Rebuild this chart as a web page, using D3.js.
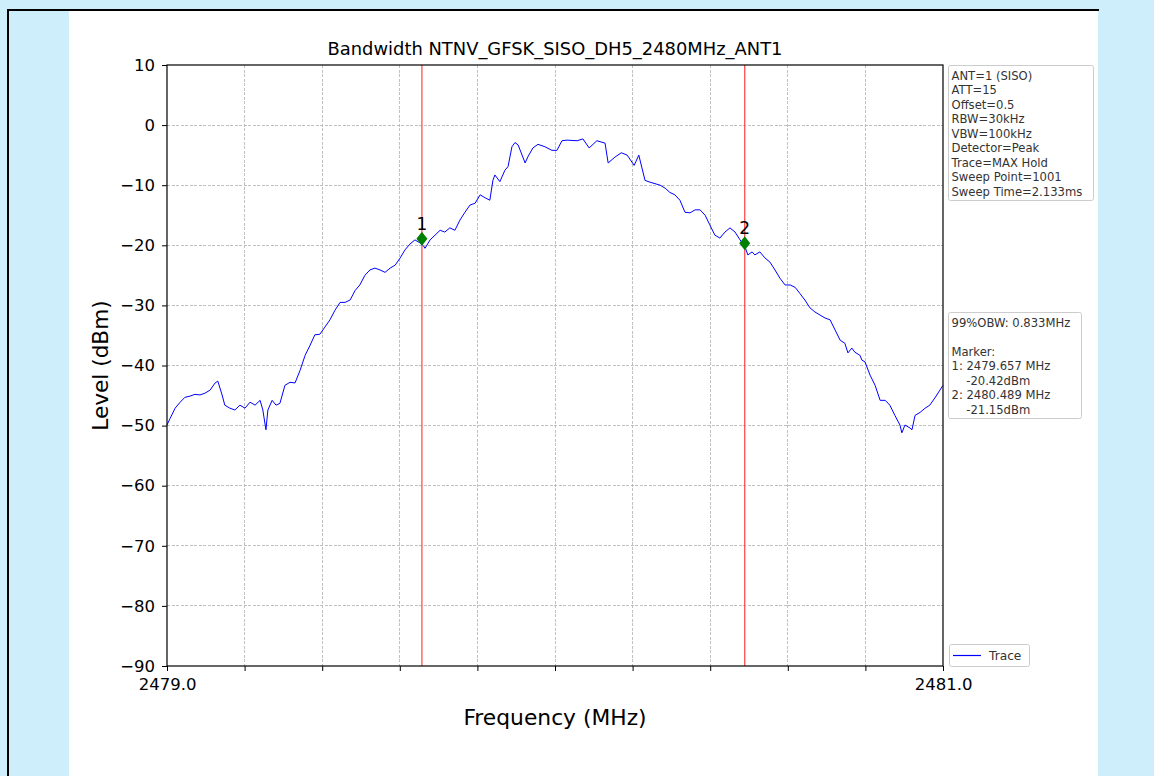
<!DOCTYPE html>
<html>
<head>
<meta charset="utf-8">
<script src="https://cdn.jsdelivr.net/npm/d3@7"></script>
<style>
  html, body { margin: 0; padding: 0; }
  body { width: 1154px; height: 776px; overflow: hidden; background: #cfeefb; font-family: "DejaVu Sans", sans-serif; }
  #frame { position: absolute; left: 7px; top: 9px; width: 1090px; height: 780px; border-left: 2px solid #000; border-top: 2px solid #000; }
  #sheet { position: absolute; left: 69px; top: 11px; width: 1029px; height: 765px; background: #fff; }
  svg { position: absolute; left: 0; top: 0; }
</style>
</head>
<body>
<div id="frame"></div>
<div id="sheet"></div>
<svg id="chart" width="1154" height="776"></svg>
<script>
// chart data
const title = 'Bandwidth NTNV_GFSK_SISO_DH5_2480MHz_ANT1'
const xDomain = [2479.0, 2481.0]
const yDomain = [-90, 10]
const yTicks = [10, 0, -10, -20, -30, -40, -50, -60, -70, -80, -90]
const xTicks = [2479.0, 2479.2, 2479.4, 2479.6, 2479.8, 2480.0, 2480.2, 2480.4, 2480.6, 2480.8, 2481.0]
const xTickLabels = ['2479.0', '', '', '', '', '', '', '', '', '', '2481.0']

const freqMHz = [
  2479.000, 2479.008, 2479.021, 2479.034, 2479.046, 2479.059, 2479.072, 2479.085, 2479.098, 2479.111,
  2479.124, 2479.131, 2479.142, 2479.149, 2479.162, 2479.175, 2479.188, 2479.201, 2479.214, 2479.227,
  2479.240, 2479.247, 2479.255, 2479.260, 2479.271, 2479.281, 2479.291, 2479.304, 2479.317, 2479.330,
  2479.343, 2479.356, 2479.369, 2479.381, 2479.394, 2479.407, 2479.420, 2479.433, 2479.446, 2479.459,
  2479.472, 2479.485, 2479.497, 2479.510, 2479.523, 2479.536, 2479.549, 2479.562, 2479.575, 2479.588,
  2479.601, 2479.613, 2479.626, 2479.639, 2479.652, 2479.660, 2479.665, 2479.678, 2479.691, 2479.704,
  2479.716, 2479.729, 2479.742, 2479.755, 2479.768, 2479.781, 2479.794, 2479.807, 2479.820, 2479.832,
  2479.840, 2479.845, 2479.858, 2479.871, 2479.879, 2479.889, 2479.897, 2479.905, 2479.923, 2479.930,
  2479.943, 2479.956, 2479.974, 2479.992, 2480.005, 2480.018, 2480.031, 2480.057, 2480.072, 2480.088,
  2480.108, 2480.129, 2480.137, 2480.155, 2480.171, 2480.186, 2480.204, 2480.216, 2480.232, 2480.245,
  2480.271, 2480.284, 2480.296, 2480.309, 2480.322, 2480.335, 2480.348, 2480.361, 2480.374, 2480.387,
  2480.399, 2480.412, 2480.425, 2480.438, 2480.451, 2480.464, 2480.477, 2480.490, 2480.497, 2480.508,
  2480.515, 2480.528, 2480.541, 2480.554, 2480.567, 2480.580, 2480.593, 2480.606, 2480.619, 2480.631,
  2480.644, 2480.657, 2480.670, 2480.683, 2480.696, 2480.709, 2480.722, 2480.735, 2480.747, 2480.755,
  2480.765, 2480.773, 2480.786, 2480.791, 2480.799, 2480.812, 2480.825, 2480.838, 2480.851, 2480.863,
  2480.876, 2480.889, 2480.894, 2480.902, 2480.915, 2480.920, 2480.928, 2480.941, 2480.954, 2480.966,
  2480.979, 2480.992, 2481.000
]
const levelDbm = [
  -49.9, -48.8, -47.1, -46.1, -45.3, -45.1, -44.8, -44.9, -44.6, -44.1,
  -42.9, -42.6, -44.9, -46.6, -47.1, -47.4, -46.6, -47.1, -46.1, -46.6,
  -45.8, -47.4, -50.7, -47.4, -45.8, -46.6, -46.3, -43.3, -42.8, -42.9,
  -40.8, -38.3, -36.6, -34.9, -34.8, -33.6, -32.4, -30.8, -29.5, -29.5,
  -29.1, -27.5, -26.6, -25.0, -24.1, -23.8, -24.1, -24.5, -23.8, -23.3,
  -22.1, -20.8, -19.8, -19.1, -19.6, -20.0, -20.5, -19.1, -18.3, -17.5,
  -17.8, -17.1, -17.5, -15.8, -14.5, -13.3, -13.0, -11.6, -12.1, -12.5,
  -9.2, -8.3, -9.4, -7.5, -6.9, -3.6, -2.9, -3.3, -6.3, -5.3,
  -3.8, -3.2, -3.6, -4.2, -4.2, -2.6, -2.5, -2.6, -2.3, -3.8,
  -2.6, -3.0, -6.3, -5.3, -4.6, -5.0, -6.7, -5.0, -9.2, -9.5,
  -10.0, -10.5, -11.2, -11.6, -12.5, -14.5, -14.6, -14.1, -14.1, -15.0,
  -16.6, -18.3, -18.8, -17.8, -17.1, -17.8, -19.1, -20.3, -21.6, -21.1,
  -21.6, -21.1, -22.1, -22.8, -24.1, -25.5, -26.6, -26.6, -27.0, -28.0,
  -29.1, -30.4, -31.1, -31.6, -32.1, -32.4, -34.1, -35.8, -36.3, -37.9,
  -37.1, -37.8, -38.3, -39.1, -39.4, -41.6, -43.3, -45.8, -45.8, -46.6,
  -48.3, -49.9, -51.2, -49.9, -50.4, -50.7, -48.3, -47.8, -47.1, -46.6,
  -45.4, -44.1, -43.3
]

const markerFreq = [2479.657, 2480.489]
const markerLevel = [-20.42, -21.15]
const markerNames = ['1', '2']

const settingsLines = ['ANT=1 (SISO)', 'ATT=15', 'Offset=0.5', 'RBW=30kHz', 'VBW=100kHz',
  'Detector=Peak', 'Trace=MAX Hold', 'Sweep Point=1001', 'Sweep Time=2.133ms']
const resultLines = ['99%OBW: 0.833MHz', '', 'Marker:', '1: 2479.657 MHz', '    -20.42dBm',
  '2: 2480.489 MHz', '    -21.15dBm']

const svg = d3.select('#chart')
const plot = {left: 167, right: 943, top: 65, bottom: 666}
const font = 'DejaVu Sans, sans-serif'

const x = d3.scaleLinear().domain(xDomain).range([plot.left, plot.right])
const y = d3.scaleLinear().domain(yDomain).range([plot.bottom, plot.top])

// grid
const grid = svg.append('g')
grid.selectAll('line.v').data(xTicks.slice(1, -1)).join('line')
  .attr('x1', d => x(d)).attr('x2', d => x(d))
  .attr('y1', plot.top).attr('y2', plot.bottom)
grid.selectAll('line.h').data(yTicks.slice(1, -1)).join('line')
  .attr('x1', plot.left).attr('x2', plot.right)
  .attr('y1', d => y(d)).attr('y2', d => y(d))
grid.selectAll('line')
  .attr('stroke', '#b0b0b0').attr('stroke-width', 0.8).attr('stroke-dasharray', '3,1.5')
  .attr('shape-rendering', 'crispEdges')

// marker lines
svg.append('g').selectAll('line').data(markerFreq).join('line')
  .attr('x1', d => x(d)).attr('x2', d => x(d))
  .attr('y1', plot.top).attr('y2', plot.bottom)
  .attr('stroke', '#ff4040').attr('stroke-width', 1.2)

// trace
const pts = freqMHz.map((f, i) => [f, levelDbm[i]])
svg.append('path').datum(pts)
  .attr('fill', 'none').attr('stroke', '#0000ff').attr('stroke-width', 1)
  .attr('stroke-linejoin', 'round')
  .attr('d', d3.line().x(d => x(d[0])).y(d => y(d[1])))

// marker diamonds (drawn just above the reported level, like the source)
const mk = svg.append('g')
markerFreq.forEach((f, i) => {
  const cx = x(f)
  const cy = y(markerLevel[i]) - 9
  mk.append('path')
    .attr('d', `M${cx},${cy - 7}L${cx + 5.5},${cy}L${cx},${cy + 7}L${cx - 5.5},${cy}Z`)
    .attr('fill', '#008000')
  mk.append('text').attr('x', cx).attr('y', cy - 9)
    .attr('text-anchor', 'middle').attr('font-family', font).attr('font-size', 17)
    .text(markerNames[i])
})

// axes
const yAxis = d3.axisLeft(y).tickValues(yTicks).tickSize(5).tickPadding(7)
  .tickFormat(d => d < 0 ? '\u2212' + Math.abs(d) : d)
const xAxis = d3.axisBottom(x).tickValues(xTicks).tickSize(5).tickPadding(7)
  .tickFormat((d, i) => xTickLabels[i])
const ya = svg.append('g').attr('transform', `translate(${plot.left},0)`).call(yAxis)
const xa = svg.append('g').attr('transform', `translate(0,${plot.bottom})`).call(xAxis)
;[ya, xa].forEach(a => {
  a.select('.domain').remove()
  a.selectAll('line').attr('stroke', '#000').attr('stroke-width', 1)
  a.selectAll('text').attr('font-family', font).attr('font-size', 16.5).attr('fill', '#000')
})

svg.append('rect')
  .attr('x', plot.left).attr('y', plot.top)
  .attr('width', plot.right - plot.left).attr('height', plot.bottom - plot.top)
  .attr('fill', 'none').attr('stroke', '#000').attr('stroke-width', 1.2)

// titles
svg.append('text').attr('x', (plot.left + plot.right) / 2).attr('y', 55)
  .attr('text-anchor', 'middle').attr('font-family', font).attr('font-size', 17.9)
  .text(title)
svg.append('text').attr('x', (plot.left + plot.right) / 2).attr('y', 725)
  .attr('text-anchor', 'middle').attr('font-family', font).attr('font-size', 21.8)
  .text('Frequency (MHz)')
svg.append('text').attr('transform', `translate(108,${(plot.top + plot.bottom) / 2}) rotate(-90)`)
  .attr('text-anchor', 'middle').attr('font-family', font).attr('font-size', 21.6)
  .text('Level (dBm)')

// side text boxes
function textBox (lines, bx, by, bw, bh) {
  const g = svg.append('g')
  g.append('rect').attr('x', bx).attr('y', by).attr('width', bw).attr('height', bh)
    .attr('rx', 2).attr('fill', '#fff').attr('stroke', '#cccccc').attr('stroke-width', 1)
  g.selectAll('text').data(lines).join('text')
    .attr('x', bx + 3).attr('y', (d, i) => by + 14 + i * 14.5)
    .attr('font-family', font).attr('font-size', 11.6).attr('fill', '#333')
    .attr('xml:space', 'preserve')
    .text(d => d)
}
textBox(settingsLines, 948.5, 65.5, 145, 135)
textBox(resultLines, 948.5, 312.5, 133, 106)

// legend
const lg = svg.append('g')
lg.append('rect').attr('x', 949.5).attr('y', 644.5).attr('width', 80).attr('height', 22)
  .attr('rx', 2).attr('fill', '#fff').attr('stroke', '#cccccc')
lg.append('line').attr('x1', 953).attr('x2', 981).attr('y1', 655.5).attr('y2', 655.5)
  .attr('stroke', '#0000ff').attr('stroke-width', 1.2)
lg.append('text').attr('x', 989).attr('y', 660).attr('font-family', font)
  .attr('font-size', 12.2).attr('fill', '#333').text('Trace')
</script>
</body>
</html>
